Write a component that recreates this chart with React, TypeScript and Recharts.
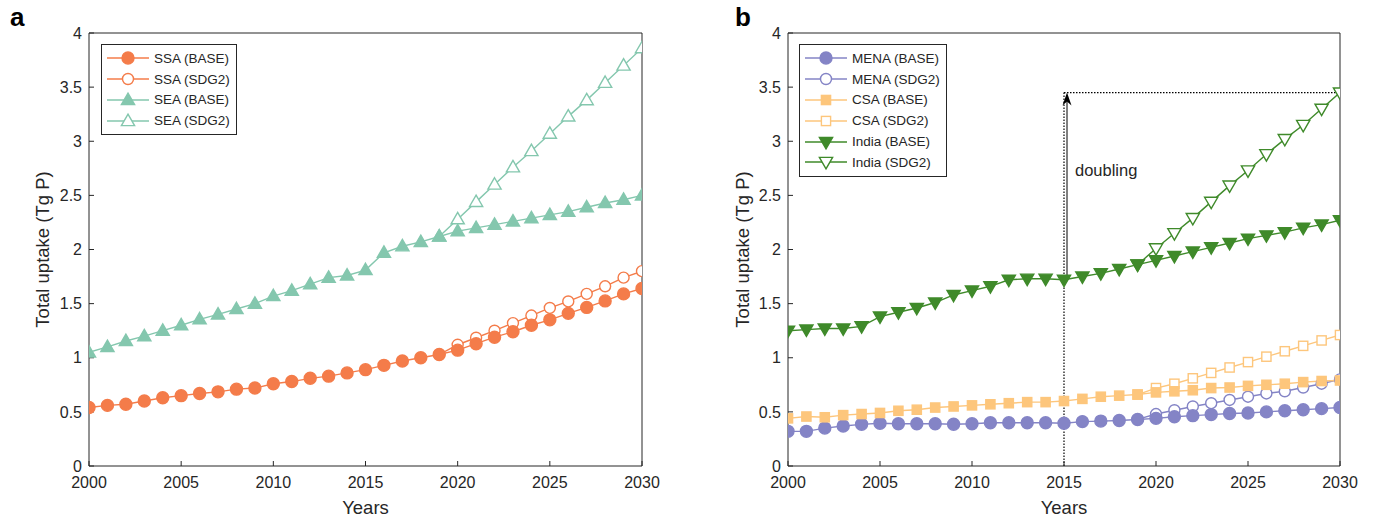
import React from 'react';
import { LineChart, Line, XAxis, YAxis, ReferenceLine, ReferenceDot, Legend } from 'recharts';

const years = [
  2000, 2001, 2002, 2003, 2004, 2005, 2006, 2007, 2008, 2009, 2010,
  2011, 2012, 2013, 2014, 2015, 2016, 2017, 2018, 2019, 2020,
  2021, 2022, 2023, 2024, 2025, 2026, 2027, 2028, 2029, 2030,
];
const xTicks = [2000, 2005, 2010, 2015, 2020, 2025, 2030];
const yTicks = [0, 0.5, 1, 1.5, 2, 2.5, 3, 3.5, 4];

const _ = null;

// panel a
const ssaBase = [0.54, 0.56, 0.57, 0.6, 0.63, 0.65, 0.67, 0.685, 0.71, 0.72, 0.76, 0.78, 0.81, 0.83, 0.86, 0.89, 0.93, 0.97, 1.0, 1.03, 1.07, 1.13, 1.19, 1.24, 1.3, 1.35, 1.41, 1.465, 1.525, 1.59, 1.64];
const ssaSdg2 = [_, _, _, _, _, _, _, _, _, _, _, _, _, _, _, _, _, _, _, 1.03, 1.12, 1.185, 1.25, 1.32, 1.39, 1.46, 1.52, 1.59, 1.66, 1.74, 1.8];
const seaBase = [1.05, 1.1, 1.155, 1.2, 1.25, 1.3, 1.355, 1.4, 1.45, 1.5, 1.57, 1.62, 1.68, 1.74, 1.76, 1.81, 1.97, 2.03, 2.07, 2.12, 2.17, 2.2, 2.23, 2.26, 2.29, 2.32, 2.35, 2.39, 2.43, 2.46, 2.5];
const seaSdg2 = [_, _, _, _, _, _, _, _, _, _, _, _, _, _, _, _, _, _, _, 2.12, 2.28, 2.44, 2.6, 2.76, 2.91, 3.07, 3.23, 3.38, 3.54, 3.7, 3.86];

// panel b
const menaBase = [0.32, 0.32, 0.35, 0.37, 0.385, 0.395, 0.39, 0.39, 0.39, 0.385, 0.39, 0.4, 0.4, 0.4, 0.4, 0.395, 0.41, 0.415, 0.42, 0.43, 0.44, 0.455, 0.465, 0.475, 0.485, 0.49, 0.5, 0.51, 0.52, 0.53, 0.54];
const menaSdg2 = [_, _, _, _, _, _, _, _, _, _, _, _, _, _, _, _, _, _, _, 0.43, 0.48, 0.515, 0.55, 0.58, 0.61, 0.64, 0.67, 0.69, 0.725, 0.76, 0.8];
const csaBase = [0.44, 0.457, 0.45, 0.47, 0.48, 0.49, 0.51, 0.52, 0.54, 0.55, 0.56, 0.57, 0.58, 0.59, 0.59, 0.6, 0.62, 0.64, 0.65, 0.66, 0.68, 0.69, 0.7, 0.72, 0.725, 0.74, 0.75, 0.76, 0.775, 0.785, 0.79];
const csaSdg2 = [_, _, _, _, _, _, _, _, _, _, _, _, _, _, _, _, _, _, _, 0.66, 0.72, 0.76, 0.81, 0.86, 0.91, 0.96, 1.01, 1.06, 1.11, 1.16, 1.21];
const indiaBase = [1.25, 1.26, 1.27, 1.27, 1.29, 1.38, 1.42, 1.46, 1.51, 1.58, 1.62, 1.66, 1.72, 1.73, 1.73, 1.72, 1.75, 1.78, 1.82, 1.86, 1.9, 1.94, 1.98, 2.02, 2.06, 2.1, 2.13, 2.16, 2.2, 2.23, 2.27];
const indiaSdg2 = [_, _, _, _, _, _, _, _, _, _, _, _, _, _, _, _, _, _, _, 1.86, 2.01, 2.15, 2.29, 2.44, 2.59, 2.73, 2.88, 3.02, 3.15, 3.3, 3.45];

// doubling annotation
const doublingYear = 2015;
const doublingStart = 1.72;
const doublingLevel = 3.45;
const doublingTextAt = 2.73;

const ORANGE = '#f47c4a';
const TEAL = '#84c7ae';
const PURPLE = '#8484c6';
const SAND = '#fdc67c';
const GREEN = '#3f8a2a';
const INK = '#262626';

type Shape = 'circle' | 'up' | 'down' | 'square';
type Series = { key: string; label: string; color: string; shape: Shape; filled: boolean };

const leftSeries: Series[] = [
  { key: 'ssaBase', label: 'SSA (BASE)', color: ORANGE, shape: 'circle', filled: true },
  { key: 'ssaSdg2', label: 'SSA (SDG2)', color: ORANGE, shape: 'circle', filled: false },
  { key: 'seaBase', label: 'SEA (BASE)', color: TEAL, shape: 'up', filled: true },
  { key: 'seaSdg2', label: 'SEA (SDG2)', color: TEAL, shape: 'up', filled: false },
];
const rightSeries: Series[] = [
  { key: 'menaBase', label: 'MENA (BASE)', color: PURPLE, shape: 'circle', filled: true },
  { key: 'menaSdg2', label: 'MENA (SDG2)', color: PURPLE, shape: 'circle', filled: false },
  { key: 'csaBase', label: 'CSA (BASE)', color: SAND, shape: 'square', filled: true },
  { key: 'csaSdg2', label: 'CSA (SDG2)', color: SAND, shape: 'square', filled: false },
  { key: 'indiaBase', label: 'India (BASE)', color: GREEN, shape: 'down', filled: true },
  { key: 'indiaSdg2', label: 'India (SDG2)', color: GREEN, shape: 'down', filled: false },
];

const leftData = years.map((year, i) => ({
  year, ssaBase: ssaBase[i], ssaSdg2: ssaSdg2[i], seaBase: seaBase[i], seaSdg2: seaSdg2[i],
}));
const rightData = years.map((year, i) => ({
  year,
  menaBase: menaBase[i], menaSdg2: menaSdg2[i],
  csaBase: csaBase[i], csaSdg2: csaSdg2[i],
  indiaBase: indiaBase[i], indiaSdg2: indiaSdg2[i],
}));

function Marker({ shape, x, y, color, filled }: { shape: Shape; x: number; y: number; color: string; filled: boolean }) {
  const fill = filled ? color : '#fff';
  const sw = 1.4;
  if (shape === 'circle') {
    return <circle cx={x} cy={y} r={filled ? 6 : 5.5} fill={fill} stroke={color} strokeWidth={sw} />;
  }
  if (shape === 'square') {
    return <rect x={x - 4.6} y={y - 4.6} width={9.2} height={9.2} fill={fill} stroke={color} strokeWidth={sw} />;
  }
  if (shape === 'up') {
    return <path d={`M${x},${y - 6.8}L${x + 6.6},${y + 4.6}L${x - 6.6},${y + 4.6}Z`} fill={fill} stroke={color} strokeWidth={sw} />;
  }
  return <path d={`M${x},${y + 6.8}L${x + 6.6},${y - 4.6}L${x - 6.6},${y - 4.6}Z`} fill={fill} stroke={color} strokeWidth={sw} />;
}

function dotFor(s: Series) {
  return (props: any) => {
    const { cx, cy, index, value } = props;
    if (value == null || cx == null || cy == null) return <g key={`${s.key}-${index}`} />;
    return (
      <g key={`${s.key}-${index}`}>
        <Marker shape={s.shape} x={cx} y={cy} color={s.color} filled={s.filled} />
      </g>
    );
  };
}

function LegendBox({ items }: { items: Series[] }) {
  return (
    <div style={{ border: `1px solid ${INK}`, background: '#fff', padding: '3px 6px 3px 3px' }}>
      {items.map((it) => (
        <div key={it.key} style={{ display: 'flex', alignItems: 'center', height: 20.8 }}>
          <svg width={46} height={20} style={{ display: 'block' }}>
            <line x1={2} x2={44} y1={10} y2={10} stroke={it.color} strokeWidth={1.4} />
            <Marker shape={it.shape} x={23} y={10} color={it.color} filled={it.filled} />
          </svg>
          <span style={{ marginLeft: 3, fontSize: 13.5, color: INK, whiteSpace: 'nowrap' }}>{it.label}</span>
        </div>
      ))}
    </div>
  );
}

const tickStyle = { fontSize: 16, fill: INK };

function Panel({ data, series, width, leftWidth, rightWidth, legendLeft, annotate }: {
  data: any[]; series: Series[]; width: number; leftWidth: number; rightWidth: number; legendLeft: number; annotate?: boolean;
}) {
  // SDG2 first so BASE markers sit on top where they share a point
  const drawOrder = [...series.filter((s) => !s.filled), ...series.filter((s) => s.filled)];
  return (
    <LineChart width={width} height={518} data={data} margin={{ top: 32, right: 0, bottom: 0, left: 0 }}>
      <XAxis
        xAxisId="b" dataKey="year" type="number" domain={[2000, 2030]} ticks={xTicks} height={52}
        tickSize={-5} tickMargin={16} tick={tickStyle} stroke={INK} allowDataOverflow
        label={{ value: 'Years', position: 'insideBottom', offset: 4, fontSize: 18.5, fill: INK }}
      />
      <XAxis
        xAxisId="t" orientation="top" dataKey="year" type="number" domain={[2000, 2030]} ticks={xTicks}
        height={1} tickSize={-5} tick={false} stroke={INK}
      />
      <YAxis
        yAxisId="l" domain={[0, 4]} ticks={yTicks} width={leftWidth} tickSize={-5} tickMargin={12}
        tick={tickStyle} stroke={INK}
        label={{ value: 'Total uptake (Tg P)', angle: -90, position: 'center', dx: -2, fontSize: 18.5, fill: INK }}
      />
      <YAxis
        yAxisId="r" orientation="right" domain={[0, 4]} ticks={yTicks} width={rightWidth} tickSize={-5}
        tickMargin={12} tick={tickStyle} stroke={INK}
      />
      {annotate && (
        <>
          <ReferenceLine
            xAxisId="b" yAxisId="l" stroke="#000" strokeWidth={1.2} strokeDasharray="1.5 1.5"
            segment={[{ x: doublingYear, y: 0 }, { x: doublingYear, y: doublingLevel }]}
          />
          <ReferenceLine
            xAxisId="b" yAxisId="l" stroke="#000" strokeWidth={1.2} strokeDasharray="1.5 1.5"
            segment={[{ x: doublingYear, y: doublingLevel }, { x: 2030, y: doublingLevel }]}
          />
          <ReferenceLine
            xAxisId="b" yAxisId="l"
            segment={[{ x: doublingYear, y: doublingStart }, { x: doublingYear, y: doublingLevel }]}
            shape={(p: any) => {
              const x = p.x1 + 3;
              const top = Math.min(p.y1, p.y2);
              const bottom = Math.max(p.y1, p.y2);
              return (
                <g>
                  <line x1={x} x2={x} y1={bottom} y2={top + 8} stroke="#000" strokeWidth={1} />
                  <path d={`M${x},${top}L${x + 4.5},${top + 13}L${x},${top + 9}L${x - 4.5},${top + 13}Z`} fill="#000" />
                </g>
              );
            }}
          />
          <ReferenceDot
            xAxisId="b" yAxisId="l" x={doublingYear} y={doublingTextAt} r={0} stroke="none"
            label={{ value: 'doubling', position: 'right', offset: 11, fontSize: 16.5, fill: INK }}
          />
        </>
      )}
      {drawOrder.map((s) => (
        <Line
          key={s.key} xAxisId="b" yAxisId="l" type="linear" dataKey={s.key} stroke={s.color} strokeWidth={1.4}
          dot={dotFor(s)} activeDot={false} isAnimationActive={false} connectNulls={false}
        />
      ))}
      <Legend
        layout="vertical" align="center" verticalAlign="middle"
        wrapperStyle={{ left: legendLeft, top: 44, width: 'auto' }}
        content={() => <LegendBox items={series} />}
      />
    </LineChart>
  );
}

export default function App() {
  return (
    <div style={{ position: 'absolute', left: 0, top: 0, width: 1383, height: 518, background: '#fff', fontFamily: '"Liberation Sans", Arial, sans-serif' }}>
      <div style={{ position: 'absolute', left: 10, top: 2, fontSize: 26, fontWeight: 'bold' }}>a</div>
      <div style={{ position: 'absolute', left: 735, top: 2, fontSize: 26, fontWeight: 'bold' }}>b</div>
      <div style={{ position: 'absolute', left: 0, top: 0 }}>
        <Panel data={leftData} series={leftSeries} width={692} leftWidth={89} rightWidth={50} legendLeft={101} />
      </div>
      <div style={{ position: 'absolute', left: 700, top: 0 }}>
        <Panel data={rightData} series={rightSeries} width={683} leftWidth={88} rightWidth={43} legendLeft={99} annotate />
      </div>
    </div>
  );
}
